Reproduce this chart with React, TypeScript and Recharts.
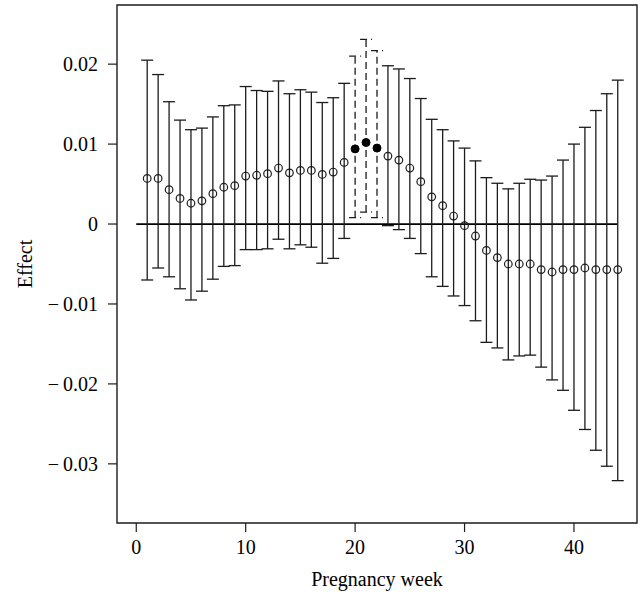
import React from 'react';
import {
  ComposedChart,
  Scatter,
  ErrorBar,
  XAxis,
  YAxis,
  ReferenceLine,
  ReferenceArea,
  Label,
} from 'recharts';

// pregnancy weeks 1..44
const weeks = [
  1, 2, 3, 4, 5, 6, 7, 8, 9, 10, 11, 12, 13, 14, 15, 16, 17, 18, 19, 20, 21, 22,
  23, 24, 25, 26, 27, 28, 29, 30, 31, 32, 33, 34, 35, 36, 37, 38, 39, 40, 41, 42, 43, 44,
];

const effect = [
  0.0057, 0.0057, 0.0043, 0.0032, 0.0026, 0.0029, 0.0038, 0.0046, 0.0048, 0.006, 0.0061,
  0.0063, 0.007, 0.0064, 0.0067, 0.0067, 0.0062, 0.0065, 0.0077, 0.0094, 0.0102, 0.0095,
  0.0085, 0.008, 0.007, 0.0053, 0.0034, 0.0023, 0.001, -0.0002, -0.0015, -0.0033, -0.0042,
  -0.005, -0.005, -0.005, -0.0057, -0.006, -0.0057, -0.0057, -0.0055, -0.0057, -0.0057,
  -0.0057,
];

const lower = [
  -0.007, -0.0055, -0.0066, -0.0081, -0.0095, -0.0084, -0.0069, -0.0053, -0.0052, -0.0032,
  -0.0032, -0.0031, -0.0019, -0.0031, -0.0026, -0.0029, -0.0049, -0.0043, -0.0018, 0.0008,
  0.0015, 0.0008, -0.0002, -0.0007, -0.0018, -0.0037, -0.0066, -0.0078, -0.009, -0.0102,
  -0.0121, -0.0148, -0.0155, -0.017, -0.0165, -0.0164, -0.0179, -0.0195, -0.0208, -0.0233,
  -0.0257, -0.0283, -0.0303, -0.0321,
];

const upper = [
  0.0205, 0.0187, 0.0153, 0.013, 0.0118, 0.012, 0.0134, 0.0148, 0.0149, 0.0172, 0.0167,
  0.0166, 0.0179, 0.0163, 0.0168, 0.0165, 0.0152, 0.0158, 0.0176, 0.021, 0.0231, 0.0217,
  0.0198, 0.0194, 0.0182, 0.0157, 0.0131, 0.0118, 0.0104, 0.0095, 0.0079, 0.0058, 0.0051,
  0.0044, 0.0051, 0.0056, 0.0055, 0.006, 0.008, 0.01, 0.0121, 0.0142, 0.0163, 0.018,
];

// weeks drawn with filled dots and dashed intervals
const highlighted = [20, 21, 22];

const xTicks = [0, 10, 20, 30, 40];
const yTicks = [-0.03, -0.02, -0.01, 0, 0.01, 0.02];

const X_DOMAIN: [number, number] = [-1.76, 45.76];
const Y_DOMAIN: [number, number] = [-0.0374, 0.0274];

const INK = '#1c1c1c';
const FONT = '"Liberation Serif", "DejaVu Serif", serif';

const rows = weeks.map((w, i) => ({
  week: w,
  effect: effect[i],
  err: [effect[i] - lower[i], upper[i] - effect[i]],
}));
const openRows = rows.filter((r) => !highlighted.includes(r.week));
const filledRows = rows.filter((r) => highlighted.includes(r.week));

const fmtY = (v: number) => {
  if (v === 0) return '0';
  if (v < 0) return '\u2212\u2009' + Math.abs(v).toFixed(2);
  return v.toFixed(2);
};

const OpenDot = (props: any) => (
  <circle cx={props.cx} cy={props.cy} r={3.8} fill="none" stroke={INK} strokeWidth={1.2} />
);

const FilledDot = (props: any) => (
  <circle cx={props.cx} cy={props.cy} r={4} fill="#000" stroke="#000" strokeWidth={1} />
);

export default function App() {
  return (
    <div style={{ position: 'absolute', left: 0, top: 0 }}>
      <ComposedChart
        width={640}
        height={598}
        margin={{ top: 5, right: 3, bottom: 0, left: 0 }}
        style={{ fontFamily: FONT }}
      >
        <XAxis
          type="number"
          dataKey="week"
          domain={X_DOMAIN}
          ticks={xTicks}
          allowDataOverflow
          axisLine={false}
          tickSize={9}
          tickMargin={8}
          tickLine={{ stroke: INK, strokeWidth: 1.2 }}
          tick={{ fill: '#000', fontSize: 20, fontFamily: FONT }}
          height={75}
        >
          <Label
            value="Pregnancy week"
            position="insideBottom"
            offset={12}
            style={{ fill: '#000', fontSize: 20, fontFamily: FONT }}
          />
        </XAxis>
        <YAxis
          type="number"
          dataKey="effect"
          domain={Y_DOMAIN}
          ticks={yTicks}
          allowDataOverflow
          axisLine={false}
          tickSize={9}
          tickMargin={10}
          tickFormatter={fmtY}
          tickLine={{ stroke: INK, strokeWidth: 1.2 }}
          tick={{ fill: '#000', fontSize: 20, fontFamily: FONT }}
          width={117}
        >
          <Label
            value="Effect"
            angle={-90}
            position="insideLeft"
            offset={25}
            style={{ fill: '#000', fontSize: 20, fontFamily: FONT, textAnchor: 'middle' }}
          />
        </YAxis>
        <ReferenceArea
          x1={X_DOMAIN[0]}
          x2={X_DOMAIN[1]}
          y1={Y_DOMAIN[0]}
          y2={Y_DOMAIN[1]}
          fill="none"
          stroke={INK}
          strokeWidth={1.4}
          ifOverflow="visible"
        />
        <ReferenceLine
          segment={[
            { x: 0, y: 0 },
            { x: 44, y: 0 },
          ]}
          stroke="#000"
          strokeWidth={1.8}
        />
        <Scatter data={openRows} dataKey="effect" shape={OpenDot} isAnimationActive={false}>
          <ErrorBar
            dataKey="err"
            direction="y"
            width={6}
            stroke={INK}
            strokeWidth={1.3}
            isAnimationActive={false}
          />
        </Scatter>
        <Scatter data={filledRows} dataKey="effect" shape={FilledDot} isAnimationActive={false}>
          <ErrorBar
            dataKey="err"
            direction="y"
            width={6}
            stroke={INK}
            strokeWidth={1.3}
            strokeDasharray="7 4"
            isAnimationActive={false}
          />
        </Scatter>
      </ComposedChart>
    </div>
  );
}
